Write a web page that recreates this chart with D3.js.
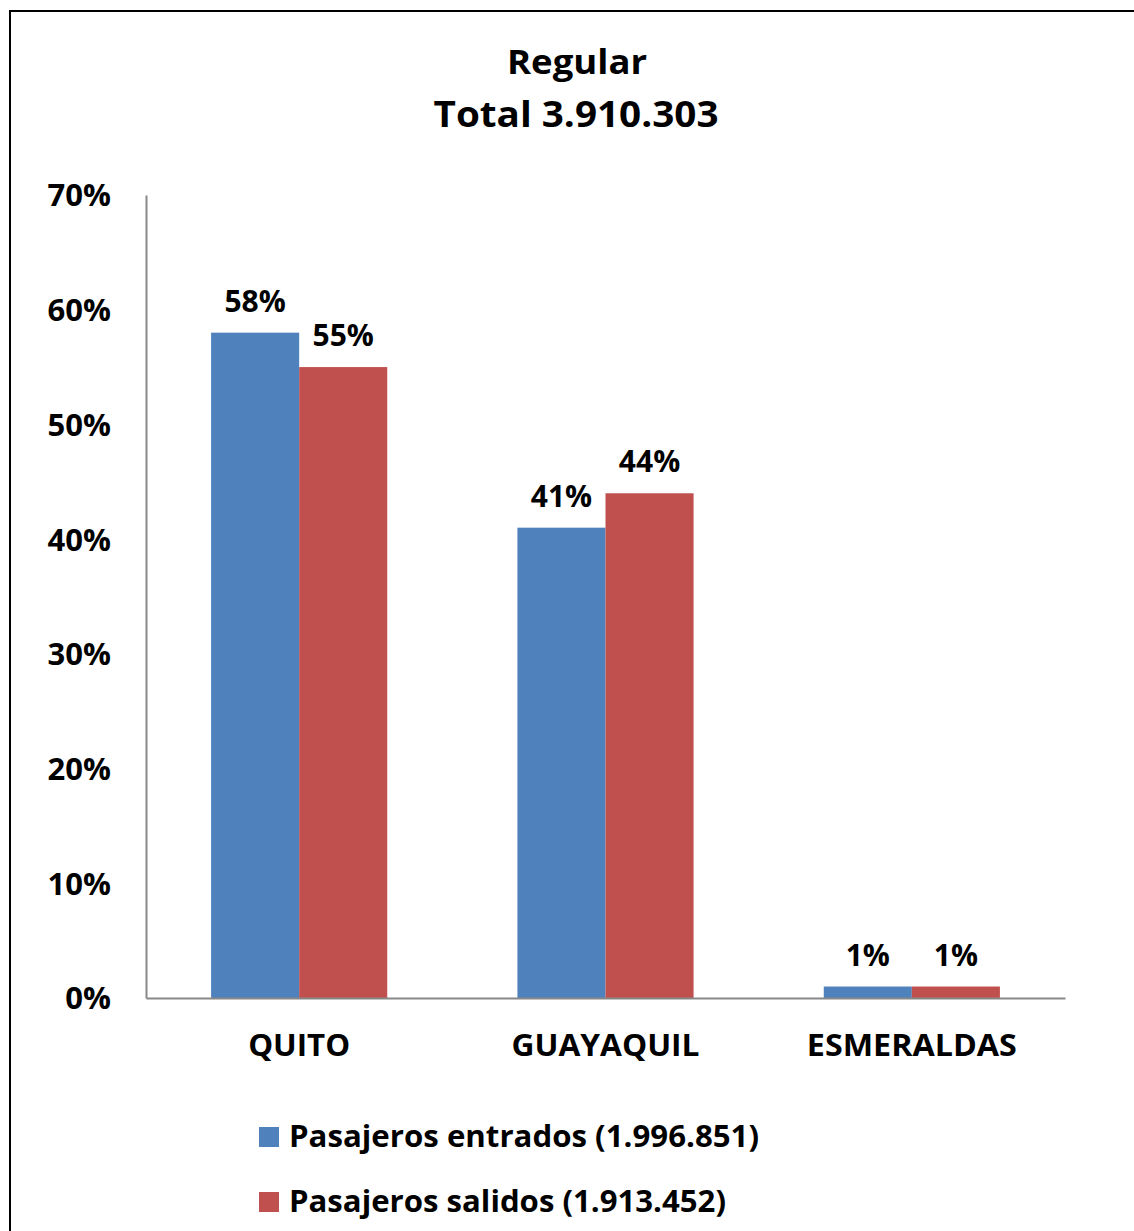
<!DOCTYPE html>
<html><head><meta charset="utf-8">
<script src="https://cdn.jsdelivr.net/npm/d3@7"></script>
<style>
html,body{margin:0;padding:0;background:#fff;}
svg{display:block;font-family:"Open Sans","Noto Sans",sans-serif;font-weight:700;}
</style></head>
<body>
<svg id="c" width="1134" height="1231"></svg>
<script>
const titleLines = ["Regular", "Total 3.910.303"];
const categories = ["QUITO", "GUAYAQUIL", "ESMERALDAS"];
const seriesNames = ["Pasajeros entrados (1.996.851)", "Pasajeros salidos (1.913.452)"];
const entrados = [0.58, 0.41, 0.01];
const salidos = [0.55, 0.44, 0.01];
const valueLabels = [["58%", "41%", "1%"], ["55%", "44%", "1%"]];
const yTicks = [0, 0.1, 0.2, 0.3, 0.4, 0.5, 0.6, 0.7];
const colors = ["#4F81BD", "#C0504D"];

const svg = d3.select("#c");
// frame
svg.append("rect").attr("x", 10).attr("y", 11).attr("width", 1140).attr("height", 1240)
  .attr("fill", "none").attr("stroke", "#000").attr("stroke-width", 2);

const x0 = d3.scaleBand().domain(categories).range([146, 1065]).paddingInner(0.425).paddingOuter(0.2125);
const x1 = d3.scaleBand().domain([0, 1]).range([0, x0.bandwidth()]);
const y = d3.scaleLinear().domain([0, 0.7]).range([998, 195]);

// title
svg.append("text").attr("x", 577).attr("y", 74).attr("text-anchor", "middle")
  .attr("font-size", 34).attr("textLength", 140).attr("lengthAdjust", "spacingAndGlyphs").text(titleLines[0]);
svg.append("text").attr("x", 576).attr("y", 127).attr("text-anchor", "middle")
  .attr("font-size", 35).attr("textLength", 285).attr("lengthAdjust", "spacingAndGlyphs").text(titleLines[1]);

// y axis
const yAxis = d3.axisLeft(y).tickValues(yTicks).tickFormat(d3.format(".0%")).tickSize(0).tickPadding(35);
const gy = svg.append("g").attr("transform", "translate(146,0)").call(yAxis);
gy.select(".domain").attr("stroke", "#888").attr("stroke-width", 2);
gy.selectAll("text").attr("font-size", 31).attr("font-family", "'Open Sans',sans-serif").attr("font-weight", 700)
  .attr("fill", "#000").attr("dy", "0.35em");

// bars
const series = [entrados, salidos];
series.forEach((vals, si) => {
  svg.append("g").selectAll("rect").data(categories).join("rect")
    .attr("x", c => x0(c) + x1(si))
    .attr("y", (c, i) => y(vals[i]))
    .attr("width", x1.bandwidth())
    .attr("height", (c, i) => y(0) - y(vals[i]))
    .attr("fill", colors[si]);
  svg.append("g").selectAll("text").data(categories).join("text")
    .attr("x", c => x0(c) + x1(si) + x1.bandwidth() / 2)
    .attr("y", (c, i) => y(vals[i]) - 21)
    .attr("text-anchor", "middle").attr("font-size", 30)
    .text((c, i) => valueLabels[si][i]);
});

// x axis
const xAxis = d3.axisBottom(x0).tickSize(0).tickPadding(58);
const gx = svg.append("g").attr("transform", "translate(0,998)").call(xAxis);
gx.select(".domain").attr("stroke", "#888").attr("stroke-width", 2);
gx.selectAll("text").attr("font-size", 30).attr("font-family", "'Open Sans',sans-serif").attr("font-weight", 700)
  .attr("fill", "#000").attr("dy", "0");
gx.selectAll(".tick text").each(function(d) {
  const w = {"QUITO": 102, "GUAYAQUIL": 188, "ESMERALDAS": 210}[d];
  d3.select(this).attr("textLength", w).attr("lengthAdjust", "spacingAndGlyphs");
});

// legend
const legW = [470, 437];
seriesNames.forEach((s, i) => {
  const ly = 1137 + i * 65;
  svg.append("rect").attr("x", 259).attr("y", ly - 10).attr("width", 20).attr("height", 20).attr("fill", colors[i]);
  svg.append("text").attr("x", 289).attr("y", ly + 10).attr("font-size", 30)
    .attr("textLength", legW[i]).attr("lengthAdjust", "spacingAndGlyphs").text(s);
});
</script>
</body></html>
